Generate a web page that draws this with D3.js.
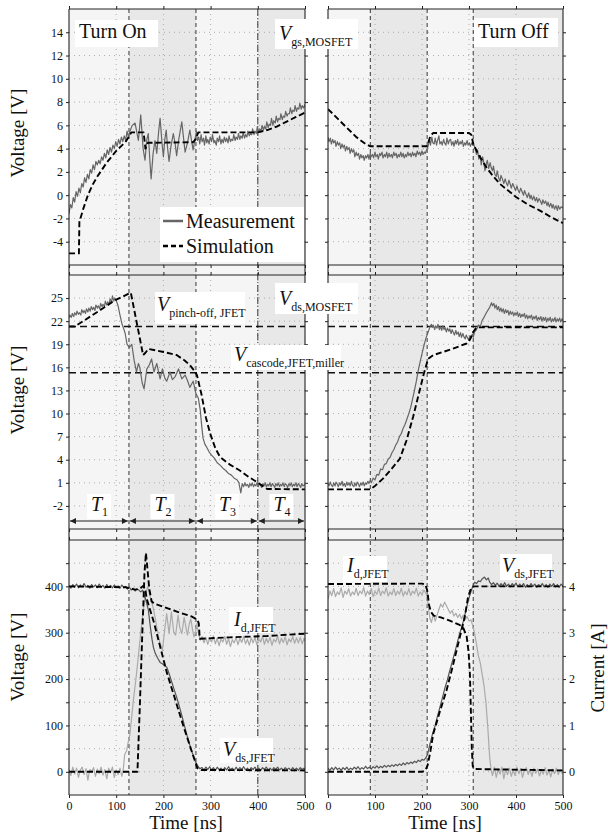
<!DOCTYPE html>
<html><head><meta charset="utf-8">
<script src="https://cdn.jsdelivr.net/npm/d3@7"></script>
<style>
body{margin:0;background:#fff}
svg{display:block}
text{font-family:"Liberation Serif","Times New Roman",serif;fill:#111}
</style>
</head><body><svg id="c" width="608" height="838"></svg>
<script>
// ---------------- DATA ----------------
const timeTicks = [0,100,200,300,400,500];
const vgsTicks = [-4,-2,0,2,4,6,8,10,12,14];
const vdsTicks = [-2,1,4,7,10,13,16,19,22,25];
const vjTicks = [0,50,100,150,200,250,300,350,400,450];
const curTicks = [0,0.5,1,1.5,2,2.5,3,3.5,4,4.5];
const phasesOn = [0,127,269,400,500];
const phasesOff = [0,90,211,309,500];
const vPinchOff = 21.3;
const vCascodeMiller = 15.3;

// Top row: V_gs,MOSFET
const onVgsMeas = [[0,-1.6],[3,-0.8],[6,-1.1],[9,-0.2],[12,-0.6],[15,0.3],[18,-0.1],[21,0.6],[24,0.2],[27,1.0],[30,0.7],[33,1.5],[36,1.1],[39,1.8],[42,1.4],[45,2.2],[48,1.9],[51,2.6],[54,2.2],[57,2.9],[60,2.6],[63,3.0],[66,2.7],[69,3.3],[72,3.0],[75,3.6],[78,3.2],[81,3.9],[84,3.5],[87,4.1],[90,3.7],[93,4.3],[96,4.0],[99,4.6],[102,4.2],[105,4.8],[108,4.4],[111,5.0],[114,4.6],[117,5.1],[120,4.7],[123,5.5],[126,5.0],[129,5.5],[134,6.0],[140,6.2],[147,4.7],[152,6.9],[157,4.0],[161,3.0],[165,4.8],[168,5.3],[171,3.2],[174,1.4],[178,3.5],[182,4.7],[186,3.6],[190,5.5],[193,6.6],[197,4.5],[200,3.3],[203,4.8],[206,5.6],[209,4.0],[212,2.9],[216,4.2],[221,5.3],[225,4.4],[228,3.4],[233,4.9],[239,6.3],[243,4.8],[246,3.7],[251,4.5],[256,5.6],[260,4.6],[263,3.9],[267,4.8],[270,5.5],[272,4.7],[275,5.0],[277,4.4],[280,5.2],[282,4.6],[285,4.9],[287,4.3],[290,5.1],[292,4.5],[294,4.8],[297,4.4],[299,5.0],[302,4.6],[304,5.2],[307,4.5],[309,4.7],[312,4.3],[314,4.9],[317,4.6],[319,5.1],[322,4.4],[324,4.8],[327,4.5],[329,5.0],[332,4.6],[334,4.9],[337,4.5],[339,5.1],[342,4.6],[344,4.8],[347,4.7],[349,5.2],[352,4.7],[354,5.0],[357,4.8],[359,5.3],[362,4.8],[364,5.1],[367,4.9],[369,5.4],[372,4.9],[374,5.2],[377,5.0],[379,5.5],[382,5.1],[384,5.3],[387,5.2],[389,5.7],[392,5.2],[394,5.5],[397,5.3],[399,5.9],[402,5.4],[404,5.7],[407,5.5],[409,6.0],[412,5.6],[414,5.9],[417,5.7],[419,6.3],[422,5.8],[424,6.1],[427,6.0],[429,6.6],[432,6.0],[434,6.4],[437,6.2],[439,6.8],[442,6.3],[444,6.6],[447,6.5],[449,7.0],[452,6.5],[454,6.8],[457,6.7],[459,7.2],[462,6.8],[464,7.0],[467,7.0],[469,7.5],[472,7.0],[474,7.3],[477,7.2],[479,7.7],[482,7.2],[484,7.5],[487,7.4],[489,7.9],[492,7.4],[494,7.7],[497,7.5],[500,7.8]];
const onVgsSim = [[0,-5],[21,-5],[22,-2.3],[30,-1.2],[40,0],[50,0.9],[60,1.6],[70,2.2],[80,2.8],[90,3.3],[100,3.8],[110,4.2],[120,4.6],[128,5.1],[132,5.4],[158,5.4],[162,4.0],[167,4.5],[263,4.55],[268,4.8],[274,5.4],[400,5.4],[420,5.6],[440,5.9],[460,6.3],[480,6.7],[500,7.1]];
const offVgsMeas = [[0,5.0],[2,4.6],[5,4.9],[7,4.4],[10,4.8],[12,4.5],[15,4.7],[17,4.2],[20,4.6],[22,4.3],[25,4.5],[27,4.0],[30,4.4],[32,4.1],[35,4.3],[37,3.8],[40,4.2],[42,3.9],[45,4.1],[47,3.6],[50,4.0],[52,3.7],[55,3.9],[57,3.3],[60,3.7],[62,3.4],[65,3.6],[67,3.1],[70,3.5],[72,3.2],[75,3.4],[77,3.0],[80,3.4],[82,3.2],[85,3.5],[87,3.1],[90,3.6],[92,3.3],[95,3.5],[97,3.2],[100,3.7],[102,3.3],[105,3.5],[107,3.1],[110,3.6],[112,3.4],[115,3.7],[117,3.2],[120,3.5],[122,3.3],[125,3.7],[127,3.2],[130,3.6],[132,3.3],[135,3.5],[137,3.2],[140,3.7],[142,3.4],[145,3.6],[147,3.2],[150,3.5],[152,3.3],[155,3.7],[157,3.3],[160,3.6],[162,3.2],[165,3.5],[167,3.3],[170,3.7],[172,3.4],[175,3.6],[177,3.3],[180,3.7],[182,3.4],[185,3.6],[187,3.3],[190,3.8],[192,3.5],[195,3.7],[197,3.4],[200,3.8],[202,3.5],[205,3.7],[207,3.6],[210,3.9],[213,4.2],[216,4.8],[218,4.3],[221,5.0],[223,4.5],[226,4.4],[228,4.9],[231,4.3],[233,4.7],[236,5.1],[238,4.4],[241,4.6],[243,4.3],[246,4.8],[248,4.5],[251,4.3],[253,4.9],[256,4.4],[258,4.7],[261,4.8],[263,4.3],[266,4.6],[268,4.2],[271,4.7],[273,4.4],[276,4.8],[278,4.3],[281,4.6],[283,4.4],[286,4.7],[288,4.2],[291,4.5],[293,4.3],[296,4.7],[298,4.3],[301,4.5],[303,4.2],[306,4.5],[308,4.3],[310,4.4],[313,4.0],[316,3.5],[318,3.9],[321,3.1],[324,3.4],[326,2.6],[329,3.3],[331,2.9],[334,2.1],[337,2.7],[339,3.0],[342,2.3],[345,2.8],[347,2.4],[350,2.1],[352,2.5],[355,1.8],[358,1.6],[360,2.1],[363,1.5],[366,1.2],[368,1.7],[371,1.4],[374,1.0],[377,1.4],[379,1.1],[382,0.8],[385,1.3],[388,0.9],[390,0.6],[393,1.0],[396,0.7],[399,0.4],[402,0.8],[404,0.5],[407,0.2],[410,0.6],[413,0.3],[416,0.0],[418,0.4],[421,0.1],[424,-0.2],[427,0.2],[430,-0.3],[432,0.0],[435,-0.4],[438,-0.1],[441,-0.5],[444,-0.2],[446,-0.6],[449,-0.3],[452,-0.5],[455,-0.8],[457,-0.4],[460,-0.7],[463,-0.5],[466,-0.9],[468,-0.6],[471,-1.0],[474,-0.7],[477,-1.1],[479,-0.8],[482,-1.2],[485,-0.9],[488,-1.3],[490,-0.9],[493,-1.2],[496,-1.0],[500,-1.1]];
const offVgsSim = [[0,7.4],[20,6.6],[40,5.8],[60,5.0],[80,4.4],[90,4.2],[210,4.2],[214,4.6],[218,5.1],[224,5.35],[300,5.35],[305,5.2],[309,4.4],[320,3.5],[337,2.4],[350,1.7],[365,1.0],[380,0.5],[400,-0.15],[425,-0.8],[450,-1.3],[475,-1.9],[500,-2.4]];

// Middle row: V_ds,MOSFET
const onVdsMeas = [[0,22.4],[2,22.8],[5,22.5],[7,23.0],[10,22.6],[12,23.1],[15,22.8],[17,23.3],[20,22.9],[22,23.1],[25,22.8],[27,23.5],[30,23.1],[32,23.4],[35,23.0],[37,23.6],[40,23.2],[42,23.7],[45,23.3],[47,23.9],[50,23.5],[52,23.8],[55,23.4],[57,24.1],[60,23.7],[62,24.0],[65,23.6],[67,24.3],[70,23.9],[72,24.2],[75,23.9],[77,24.6],[80,24.1],[82,24.5],[85,24.2],[87,24.9],[90,24.4],[92,25.3],[95,24.6],[97,25.0],[100,24.7],[104,24.0],[108,22.8],[112,21.7],[116,21.0],[119,20.4],[123,19.0],[128,18.6],[133,19.0],[138,16.9],[143,15.4],[147,16.5],[150,16.0],[155,14.0],[159,13.2],[165,15.8],[170,16.3],[175,17.1],[180,15.4],[186,16.5],[193,14.5],[198,15.8],[203,14.6],[207,14.2],[214,15.4],[219,14.4],[225,14.8],[232,15.8],[239,14.5],[246,15.0],[251,14.3],[256,13.4],[263,14.2],[269,12.6],[274,12.0],[278,10.5],[281,8.5],[284,6.8],[288,6.0],[292,5.6],[297,5.0],[302,4.6],[308,4.2],[314,3.6],[320,3.3],[326,2.9],[332,2.6],[338,2.2],[344,2.0],[350,1.6],[356,1.4],[360,1.0],[364,-0.3],[367,0.9],[370,0.5],[373,1.0],[375,0.6],[378,0.8],[381,0.4],[383,0.9],[386,0.6],[388,1.0],[391,0.5],[393,0.8],[396,0.6],[398,1.0],[401,0.5],[403,0.9],[406,0.7],[408,0.4],[411,0.9],[413,0.6],[416,1.0],[418,0.5],[421,0.8],[423,0.6],[426,1.0],[428,0.5],[431,0.9],[433,0.7],[436,0.4],[438,0.9],[441,0.6],[443,1.0],[446,0.5],[448,0.8],[451,0.6],[453,1.0],[456,0.5],[458,0.9],[461,0.7],[463,0.4],[466,0.9],[468,0.6],[471,1.0],[473,0.5],[476,0.8],[478,0.6],[481,1.0],[483,0.5],[486,0.9],[488,0.7],[491,0.4],[493,0.9],[496,0.6],[500,0.8]];
const onVdsSim = [[0,21.3],[12,21.3],[30,22.0],[60,23.2],[97,24.7],[131,25.7],[157,17.6],[162,17.9],[168,18.4],[200,18.0],[228,17.6],[245,16.9],[256,16.3],[265,15.6],[271,15.0],[281,12.4],[290,9.5],[299,7.4],[310,5.5],[320,4.35],[340,3.4],[362,2.6],[380,1.8],[398,1.1],[410,0.6],[420,0.2],[500,0.15]];
const offVdsMeas = [[0,0.9],[2,0.6],[5,1.1],[7,0.7],[10,0.5],[12,1.0],[15,0.6],[17,1.1],[20,0.8],[22,0.5],[25,1.0],[27,0.7],[30,1.2],[32,0.6],[35,0.9],[37,0.5],[40,1.1],[42,0.7],[45,1.0],[47,0.6],[50,1.2],[52,0.7],[55,0.5],[57,1.0],[60,0.6],[62,1.1],[65,0.8],[67,0.5],[70,1.0],[72,0.7],[75,1.1],[77,0.6],[80,1.0],[82,0.8],[85,1.2],[87,0.9],[90,1.3],[92,1.0],[96,1.6],[100,1.4],[104,2.1],[108,2.0],[112,2.8],[116,2.7],[120,3.4],[124,3.5],[128,4.1],[132,4.3],[136,4.9],[140,5.3],[144,5.9],[148,6.3],[152,7.0],[156,7.4],[160,8.1],[164,8.6],[168,9.3],[172,10.0],[176,10.8],[180,11.9],[184,13.0],[188,14.2],[192,15.6],[196,16.7],[200,17.8],[204,18.8],[208,19.7],[212,20.4],[216,21.1],[220,21.6],[222,21.2],[224,21.5],[227,20.9],[229,21.4],[232,21.1],[234,21.6],[237,20.9],[239,21.3],[242,20.8],[244,21.4],[247,20.9],[249,21.2],[252,20.6],[254,21.1],[257,20.7],[259,21.0],[262,20.4],[264,20.9],[267,20.5],[269,20.2],[272,20.8],[274,20.3],[277,20.6],[279,20.0],[282,20.5],[284,19.9],[287,20.4],[289,20.0],[292,19.7],[294,20.2],[297,19.8],[299,19.6],[302,20.1],[304,19.8],[307,20.3],[309,19.9],[312,20.6],[316,20.9],[320,21.5],[324,21.3],[328,22.1],[332,22.5],[336,23.0],[340,23.4],[344,23.8],[348,24.4],[350,24.0],[353,24.3],[355,23.7],[358,24.1],[360,23.5],[363,23.9],[365,23.3],[368,23.7],[370,23.2],[373,23.6],[375,23.0],[378,23.5],[380,23.1],[383,23.4],[385,22.8],[388,23.3],[390,22.9],[393,23.2],[395,22.7],[398,23.1],[400,22.8],[403,23.2],[405,22.6],[408,23.0],[410,22.5],[413,22.9],[415,22.6],[418,23.0],[420,22.4],[423,22.8],[425,22.3],[428,22.7],[430,22.4],[433,22.8],[435,22.2],[438,22.6],[440,22.3],[443,22.7],[445,22.1],[448,22.5],[450,22.2],[453,22.6],[455,22.0],[458,22.5],[460,22.1],[463,22.5],[465,21.9],[468,22.4],[470,22.1],[473,22.5],[475,21.9],[478,22.3],[480,22.0],[483,22.5],[485,21.9],[488,22.3],[490,22.0],[493,22.4],[495,21.9],[498,22.3],[500,22.0]];
const offVdsSim = [[0,0.15],[90,0.15],[100,0.6],[117,1.55],[135,2.8],[153,4.15],[167,6.5],[181,9.55],[195,13.0],[204,15.2],[213,17.1],[224,17.6],[260,18.3],[295,19.1],[302,19.6],[309,20.6],[316,21.2],[500,21.2]];

// Bottom row: V_ds,JFET (V) and I_d,JFET (A)
const onVdsJMeas = [[0,402],[4,396],[8,404],[12,398],[16,405],[20,397],[24,403],[28,399],[32,406],[36,398],[40,402],[44,396],[48,404],[52,399],[56,403],[60,397],[64,405],[68,399],[72,402],[76,396],[80,404],[84,398],[88,402],[92,397],[96,403],[100,398],[104,401],[108,396],[112,403],[116,397],[120,400],[124,394],[128,398],[132,392],[136,396],[140,390],[144,394],[148,392],[152,388],[156,392],[160,380],[164,366],[168,350],[172,315],[176,285],[179,268],[183,255],[188,245],[193,236],[198,233],[203,228],[207,226],[212,212],[217,196],[222,180],[228,161],[234,140],[240,118],[245,98],[249,82],[254,65],[258,50],[263,36],[267,24],[272,14],[277,7],[282,9],[286,4],[290,10],[294,5],[298,11],[302,4],[306,9],[310,3],[314,10],[318,5],[322,8],[326,3],[330,9],[334,4],[338,11],[342,5],[346,8],[350,3],[354,10],[358,4],[362,9],[366,5],[370,11],[374,4],[378,8],[382,3],[386,9],[390,5],[394,10],[398,4],[402,8],[406,3],[410,9],[414,5],[418,10],[422,4],[426,8],[430,3],[434,9],[438,5],[442,10],[446,4],[450,8],[454,3],[458,9],[462,5],[466,8],[470,3],[474,9],[478,4],[482,8],[486,3],[490,9],[494,5],[498,8],[500,4]];
const onVdsJSim = [[0,400],[120,398],[128,396],[140,393],[150,395],[157,401],[161,396],[165,372],[180,322],[207,215],[242,100],[262,38],[272,8],[280,4],[500,3]];
const onIdMeas = [[0,0.05],[4,-0.08],[8,0.1],[12,-0.05],[16,0.08],[20,-0.12],[24,0.04],[28,0.1],[32,-0.06],[36,0.07],[40,-0.18],[44,0.05],[48,0.0],[52,0.09],[56,-0.1],[60,0.06],[64,-0.04],[68,0.1],[72,-0.07],[76,0.05],[80,-0.15],[84,0.08],[88,-0.02],[92,0.1],[96,-0.12],[100,0.04],[104,-0.06],[108,0.08],[112,-0.1],[115,0.05],[118,0.38],[122,0.45],[125,0.62],[129,0.81],[133,1.2],[137,1.6],[140,1.85],[143,2.11],[147,2.5],[150,2.8],[154,3.19],[158,3.55],[161,3.75],[164,3.9],[167,4.0],[170,3.85],[174,3.7],[178,3.55],[182,3.35],[186,3.12],[190,2.9],[193,2.76],[196,2.7],[198,2.62],[202,3.0],[207,3.41],[212,2.98],[217,3.45],[222,3.0],[226,2.95],[231,3.38],[235,3.1],[239,2.98],[244,3.33],[248,3.1],[251,2.95],[255,3.2],[258,3.3],[262,3.05],[265,2.91],[268,3.0],[271,3.2],[274,3.0],[278,2.84],[282,2.92],[286,2.78],[290,2.9],[294,2.75],[298,2.88],[302,2.8],[306,2.93],[310,2.76],[314,2.88],[318,2.72],[322,2.86],[326,2.8],[330,2.92],[334,2.75],[338,2.87],[342,2.7],[346,2.85],[350,2.78],[354,2.9],[358,2.74],[362,2.88],[366,2.79],[370,2.92],[374,2.76],[378,2.86],[382,2.73],[386,2.89],[390,2.78],[394,2.9],[398,2.74],[402,2.87],[406,2.8],[410,2.92],[414,2.75],[418,2.88],[422,2.78],[426,2.9],[430,2.73],[434,2.86],[438,2.8],[442,2.93],[446,2.76],[450,2.88],[454,2.79],[458,2.91],[462,2.74],[466,2.87],[470,2.8],[474,2.92],[478,2.77],[482,2.89],[486,2.78],[490,2.9],[494,2.76],[498,2.88],[500,2.82]];
const onIdSim = [[0,0],[145,0],[150,1.4],[155,2.9],[160,4.3],[163,4.72],[166,4.4],[170,3.95],[175,3.68],[180,3.63],[200,3.56],[230,3.45],[260,3.35],[272,3.28],[275,3.2],[277,2.87],[340,2.9],[420,2.93],[500,2.98]];

const offVdsJMeas = [[0,8],[4,3],[8,9],[12,4],[16,10],[20,5],[24,8],[28,3],[32,9],[36,5],[40,10],[44,4],[48,8],[52,5],[56,10],[60,6],[64,11],[68,5],[72,9],[76,6],[80,12],[84,7],[88,10],[92,6],[96,11],[100,8],[104,13],[108,8],[112,12],[116,9],[120,14],[124,10],[128,14],[132,11],[136,15],[140,12],[144,16],[148,13],[152,17],[156,14],[160,19],[164,15],[168,20],[172,17],[176,21],[180,18],[184,23],[188,20],[192,25],[196,22],[200,27],[204,25],[208,30],[212,38],[217,60],[222,80],[228,100],[233,120],[238,139],[243,158],[248,178],[254,198],[259,218],[264,236],[270,258],[275,278],[280,298],[284,310],[288,325],[292,342],[295,355],[298,367],[301,378],[305,391],[308,400],[312,409],[316,406],[320,412],[324,410],[328,416],[333,420],[337,414],[341,418],[344,409],[348,404],[352,408],[356,402],[360,407],[364,400],[368,406],[372,401],[376,408],[380,400],[384,405],[388,399],[392,406],[396,401],[400,407],[404,399],[408,405],[412,400],[416,406],[420,398],[424,404],[428,399],[432,406],[436,400],[440,405],[444,398],[448,404],[452,400],[456,406],[460,399],[464,404],[468,398],[472,405],[476,400],[480,406],[484,399],[488,404],[492,398],[496,405],[500,400]];
const offVdsJSim = [[0,0],[200,0],[207,3],[212,14],[218,45],[224,82],[238,130],[252,175],[263,218],[277,276],[291,334],[298,377],[305,398],[312,400],[500,400]];
const offIdMeas = [[0,3.72],[4,3.9],[8,3.8],[12,3.95],[16,3.78],[20,3.88],[24,3.82],[28,3.97],[32,3.76],[36,3.9],[40,3.83],[44,3.95],[48,3.79],[52,3.88],[56,3.82],[60,3.96],[64,3.8],[68,3.9],[72,3.84],[76,3.97],[80,3.79],[84,3.9],[88,3.82],[92,3.95],[96,3.78],[100,3.89],[104,3.83],[108,3.96],[112,3.8],[116,3.9],[120,3.84],[124,3.97],[128,3.79],[132,3.88],[136,3.82],[140,3.95],[144,3.8],[148,3.9],[152,3.83],[156,3.96],[160,3.79],[164,3.89],[168,3.82],[172,3.95],[176,3.8],[180,3.9],[184,3.84],[188,3.96],[192,3.79],[196,3.88],[200,3.82],[204,3.92],[208,3.85],[211,3.78],[214,3.5],[217,3.3],[220,3.22],[224,3.4],[228,3.25],[232,3.38],[236,3.5],[240,3.62],[244,3.55],[248,3.66],[252,3.58],[256,3.5],[260,3.42],[264,3.48],[268,3.36],[272,3.42],[276,3.33],[280,3.4],[284,3.3],[288,3.38],[292,3.28],[296,3.35],[300,3.25],[304,3.28],[308,3.15],[312,2.98],[316,2.75],[320,2.5],[324,2.35],[328,2.1],[332,1.85],[336,1.5],[340,0.95],[344,0.31],[347,0.05],[350,-0.08],[354,0.1],[358,-0.12],[362,0.06],[366,-0.05],[370,0.1],[374,-0.15],[378,0.05],[382,-0.06],[386,0.08],[390,-0.1],[394,0.04],[398,-0.08],[402,0.1],[406,-0.04],[410,0.07],[414,-0.12],[418,0.03],[422,0.09],[426,-0.06],[430,0.05],[434,-0.1],[438,0.08],[442,-0.03],[446,0.06],[450,-0.09],[454,0.04],[458,-0.05],[462,0.09],[466,-0.07],[470,0.03],[474,-0.11],[478,0.06],[482,-0.04],[486,0.08],[490,-0.06],[494,0.05],[498,-0.03],[500,0.02]];
const offIdSim = [[0,4.05],[200,4.06],[207,4.04],[211,3.92],[215,3.6],[219,3.45],[225,3.37],[240,3.33],[259,3.26],[280,3.17],[288,3.1],[295,2.92],[299,2.6],[302,2.1],[304,1.3],[306,0.5],[308,0.12],[312,0.06],[500,0.03]];

// ---------------- LAYOUT ----------------
const svg = d3.select('#c');
const colX = [d3.scaleLinear([0,500],[69,305]), d3.scaleLinear([0,500],[328,563])];
const rowsY = [
  {y: d3.scaleLinear([-6,16],[265,9]), top:9, bot:265, ticks: vgsTicks, lab: vgsTicks},
  {y: d3.scaleLinear([-5,28],[529,275]), top:275, bot:529, ticks: vdsTicks, lab: vdsTicks},
  {y: d3.scaleLinear([-50,500],[795,540]), top:540, bot:795, ticks: vjTicks, lab: [0,100,200,300,400]}
];
const yCur = d3.scaleLinear([-0.5,5],[795,540]);
const phases = [phasesOn, phasesOff];
const LIGHT = '#f5f5f5', DARK = '#e8e8e8';
const defs = svg.append('defs');

// background shading
phases.forEach((ph, c) => {
  const x = colX[c];
  for (let i = 0; i < ph.length - 1; i++) {
    svg.append('rect').attr('x', x(ph[i])).attr('y', 9)
      .attr('width', x(ph[i+1]) - x(ph[i])).attr('height', 786)
      .attr('fill', i % 2 === 0 ? LIGHT : DARK);
  }
});

// dotted grids
rowsY.forEach((r, ri) => {
  colX.forEach((x, c) => {
    const g = svg.append('g').attr('stroke', '#9a9a9a').attr('stroke-width', 0.8).attr('stroke-dasharray', '1,4');
    r.ticks.forEach(v => {
      g.append('line').attr('x1', x(0)).attr('x2', x(500)).attr('y1', r.y(v)).attr('y2', r.y(v));
    });
    [100,200,300,400].forEach(t => {
      g.append('line').attr('x1', x(t)).attr('x2', x(t)).attr('y1', r.top).attr('y2', r.bot);
    });
  });
});

// phase boundary lines
phases.forEach((ph, c) => {
  const x = colX[c];
  ph.slice(1, -1).forEach((t, i) => {
    const dashdot = (c === 0 && i === 2);
    svg.append('line').attr('x1', x(t)).attr('x2', x(t)).attr('y1', 9).attr('y2', 795)
      .attr('stroke', '#222').attr('stroke-width', 0.9)
      .attr('stroke-dasharray', dashdot ? '7,2,1,2' : '4,3');
  });
});

// clip paths
rowsY.forEach((r, ri) => colX.forEach((x, c) => {
  defs.append('clipPath').attr('id', `cp${ri}${c}`).append('rect')
    .attr('x', x(0)).attr('y', r.top).attr('width', x(500) - x(0)).attr('height', r.bot - r.top);
}));

function drawLine(data, ri, c, yScale, style) {
  const x = colX[c];
  const line = d3.line().x(d => x(d[0])).y(d => yScale(d[1]));
  svg.append('path').datum(data).attr('d', line).attr('fill', 'none')
    .attr('clip-path', `url(#cp${ri}${c})`)
    .attr('stroke', style.color).attr('stroke-width', style.w)
    .attr('stroke-dasharray', style.dash || null)
    .attr('stroke-linejoin', 'round');
}
const MEAS = {color:'#666', w:1.2};
const MEAS_D = {color:'#555', w:1.2};
const MEAS_L = {color:'#aaa', w:1.2};
const SIM = {color:'#000', w:1.9, dash:'6,3'};
const REF = {color:'#111', w:1.4, dash:'7,4'};

// reference horizontal lines in middle row
[vPinchOff, vCascodeMiller].forEach(v => {
  colX.forEach((x, c) => drawLine([[0, v],[500, v]], 1, c, rowsY[1].y, REF));
});

// measurement then simulation
drawLine(onVgsMeas, 0, 0, rowsY[0].y, MEAS);
drawLine(offVgsMeas, 0, 1, rowsY[0].y, MEAS);
drawLine(onVdsMeas, 1, 0, rowsY[1].y, MEAS);
drawLine(offVdsMeas, 1, 1, rowsY[1].y, MEAS);
drawLine(onIdMeas, 2, 0, yCur, MEAS_L);
drawLine(offIdMeas, 2, 1, yCur, MEAS_L);
drawLine(onVdsJMeas, 2, 0, rowsY[2].y, MEAS_D);
drawLine(offVdsJMeas, 2, 1, rowsY[2].y, MEAS_D);

drawLine(onVgsSim, 0, 0, rowsY[0].y, SIM);
drawLine(offVgsSim, 0, 1, rowsY[0].y, SIM);
drawLine(onVdsSim, 1, 0, rowsY[1].y, SIM);
drawLine(offVdsSim, 1, 1, rowsY[1].y, SIM);
drawLine(onIdSim, 2, 0, yCur, SIM);
drawLine(offIdSim, 2, 1, yCur, SIM);
drawLine(onVdsJSim, 2, 0, rowsY[2].y, SIM);
drawLine(offVdsJSim, 2, 1, rowsY[2].y, SIM);

// frames
colX.forEach(x => {
  svg.append('line').attr('x1', x(0)).attr('x2', x(0)).attr('y1', 9).attr('y2', 795).attr('stroke', '#222').attr('stroke-width', 1.1);
  svg.append('line').attr('x1', x(500)).attr('x2', x(500)).attr('y1', 9).attr('y2', 795).attr('stroke', '#222').attr('stroke-width', 1.1);
  rowsY.forEach(r => {
    [r.top, r.bot].forEach(yy => svg.append('line').attr('x1', x(0)).attr('x2', x(500)).attr('y1', yy).attr('y2', yy).attr('stroke', '#222').attr('stroke-width', 1.1));
  });
});

// axes / ticks
const FS = 12;
function styleAxis(g) {
  g.select('.domain').remove();
  g.selectAll('.tick line').attr('stroke', '#222');
  g.selectAll('.tick text').attr('font-size', FS).attr('font-family', '"Liberation Serif","Times New Roman",serif').attr('fill', '#222');
}
rowsY.forEach((r, ri) => {
  colX.forEach((x, c) => {
    svg.append('g').attr('transform', `translate(${x(0)},0)`)
      .call(d3.axisLeft(r.y).tickValues(r.ticks).tickSize(3).tickPadding(3)
        .tickFormat(d => (c === 0 && r.lab.includes(d)) ? d : ''))
      .call(styleAxis);
    if (ri === 2 && c === 1) {
      svg.append('g').attr('transform', `translate(${x(500)},0)`)
        .call(d3.axisRight(yCur).tickValues(curTicks).tickSize(3).tickPadding(3)
          .tickFormat(d => Number.isInteger(d) ? d : ''))
        .call(styleAxis);
    } else {
      svg.append('g').attr('transform', `translate(${x(500)},0)`)
        .call(d3.axisRight(r.y).tickValues(r.ticks).tickSize(3).tickFormat(''))
        .call(styleAxis);
    }
    svg.append('g').attr('transform', `translate(0,${r.top})`)
      .call(d3.axisTop(x).tickValues(timeTicks).tickSize(3).tickFormat(''))
      .call(styleAxis);
    svg.append('g').attr('transform', `translate(0,${r.bot})`)
      .call(d3.axisBottom(x).tickValues(timeTicks).tickSize(3).tickPadding(3)
        .tickFormat(d => ri === 2 ? d : ''))
      .call(styleAxis);
  });
});

// axis titles
[133, 390, 657].forEach(cy => {
  svg.append('text').attr('transform', `translate(24,${cy}) rotate(-90)`)
    .attr('text-anchor', 'middle').attr('font-size', 19).text('Voltage [V]');
});
svg.append('text').attr('transform', `translate(604,668) rotate(-90)`)
  .attr('text-anchor', 'middle').attr('font-size', 19).text('Current [A]');
[186, 445].forEach(cx => {
  svg.append('text').attr('x', cx).attr('y', 829).attr('text-anchor', 'middle').attr('font-size', 19).text('Time [ns]');
});

// annotation boxes
function box(x0, y0, x1, y1) {
  svg.append('rect').attr('x', x0).attr('y', y0).attr('width', x1 - x0).attr('height', y1 - y0).attr('fill', '#fff');
}
function subLabel(spec) {
  box(...spec.box);
  const t = svg.append('text').attr('x', spec.x).attr('y', spec.y);
  t.append('tspan').attr('font-style', 'italic').attr('font-size', spec.fs || 20).text(spec.main);
  t.append('tspan').attr('font-size', spec.sfs || 12).attr('dy', spec.dy || 6).text(spec.sub);
}
const labels = [
  {main:'V', sub:'gs,MOSFET', x:279, y:40, box:[275,19,358,49]},
  {main:'V', sub:'pinch-off, JFET', x:157, y:311, box:[155,292,245,324]},
  {main:'V', sub:'ds,MOSFET', x:279, y:305, box:[275,283,358,314]},
  {main:'V', sub:'cascode,JFET,miller', x:234, y:361, box:[231,345,341,370]},
  {main:'I', sub:'d,JFET', x:234, y:626, box:[229,607,273,633]},
  {main:'V', sub:'ds,JFET', x:223, y:756, box:[220,738,273,763]},
  {main:'I', sub:'d,JFET', x:347, y:572, box:[343,556,387,582]},
  {main:'V', sub:'ds,JFET', x:502, y:572, box:[500,554,552,580]}
];
labels.forEach(subLabel);

box(75, 20, 158, 47);
svg.append('text').attr('x', 79).attr('y', 38).attr('font-size', 20).text('Turn On');
box(474, 18, 558, 47);
svg.append('text').attr('x', 478).attr('y', 38).attr('font-size', 20).text('Turn Off');

// legend
box(160, 207, 304, 262);
svg.append('line').attr('x1', 163).attr('x2', 183).attr('y1', 221).attr('y2', 221).attr('stroke', '#666').attr('stroke-width', 2.5);
svg.append('text').attr('x', 186).attr('y', 228).attr('font-size', 20).text('Measurement');
svg.append('line').attr('x1', 163).attr('x2', 183).attr('y1', 246).attr('y2', 246).attr('stroke', '#000').attr('stroke-width', 2.5).attr('stroke-dasharray', '5,3');
svg.append('text').attr('x', 186).attr('y', 253).attr('font-size', 20).text('Simulation');

// phase arrows (T1..T4)
const arrowY = 521;
const tNames = ['1','2','3','4'];
defs.append('marker').attr('id', 'ah').attr('viewBox', '0 0 10 10').attr('refX', 10).attr('refY', 5)
  .attr('markerWidth', 9).attr('markerHeight', 6).attr('orient', 'auto-start-reverse').attr('markerUnits', 'userSpaceOnUse')
  .append('path').attr('d', 'M0,0 L10,5 L0,10 Z').attr('fill', '#222');
for (let i = 0; i < phasesOn.length - 1; i++) {
  const x0 = colX[0](phasesOn[i]), x1 = colX[0](phasesOn[i+1]);
  svg.append('line').attr('x1', x0 + 1).attr('x2', x1 - 1).attr('y1', arrowY).attr('y2', arrowY)
    .attr('stroke', '#222').attr('stroke-width', 1)
    .attr('marker-start', 'url(#ah)').attr('marker-end', 'url(#ah)');
  const cx = (x0 + x1) / 2;
  box(cx - 12, 494, cx + 12, 519);
  const t = svg.append('text').attr('x', cx - 8).attr('y', 511);
  t.append('tspan').attr('font-style', 'italic').attr('font-size', 20).text('T');
  t.append('tspan').attr('font-size', 12).attr('dy', 5).text(tNames[i]);
}
</script>
</body></html>
